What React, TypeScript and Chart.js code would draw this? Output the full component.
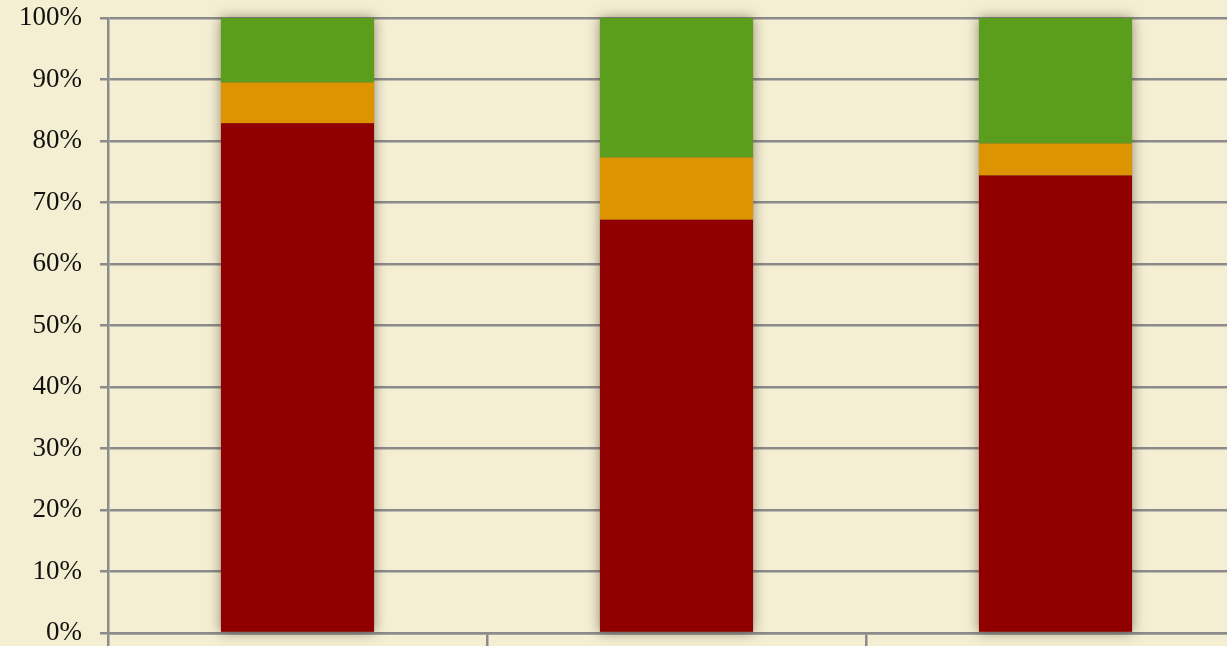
import React, { useEffect, useRef } from "react";
import { Chart, registerables } from "chart.js";

Chart.register(...registerables);

const categories = ["Group 1", "Group 2", "Group 3"];
const seriesNames = ["Series A", "Series B", "Series C"];
const redValues = [82.9, 67.2, 74.4];
const orangeValues = [6.6, 10.1, 5.2];
const greenValues = [10.5, 22.7, 20.4];
const yTicks = [0, 10, 20, 30, 40, 50, 60, 70, 80, 90, 100];

const BG = "#f4eed3";
const GRID = "#8b8b8b";

const W = 1260;
const H = 700;

const bgPlugin = {
  id: "bgFill",
  beforeDraw(chart: any) {
    const { ctx } = chart;
    ctx.save();
    ctx.fillStyle = BG;
    ctx.fillRect(0, 0, chart.width, chart.height);
    ctx.restore();
  },
};

const shadowPlugin = {
  id: "barShadow",
  beforeDatasetsDraw(chart: any) {
    const { ctx } = chart;
    const n = chart.data.datasets.length;
    const first = chart.getDatasetMeta(0);
    const last = chart.getDatasetMeta(n - 1);
    ctx.save();
    ctx.shadowColor = "rgba(60,50,30,0.55)";
    ctx.shadowBlur = 12;
    ctx.shadowOffsetX = 0;
    ctx.shadowOffsetY = 0;
    ctx.fillStyle = "rgba(120,100,70,1)";
    first.data.forEach((el: any, i: number) => {
      const top = last.data[i];
      const w = el.width;
      ctx.fillRect(el.x - w / 2, top.y, w, el.base - top.y);
    });
    ctx.restore();
  },
};

export default function App() {
  const ref = useRef<HTMLCanvasElement | null>(null);
  useEffect(() => {
    if (!ref.current) return;
    document.body.style.margin = "0";
    document.body.style.background = BG;
    document.body.style.overflow = "hidden";
    const chart = new Chart(ref.current, {
      type: "bar",
      data: {
        labels: categories,
        datasets: [
          { label: seriesNames[0], data: redValues, backgroundColor: "#900000" },
          { label: seriesNames[1], data: orangeValues, backgroundColor: "#dc9500" },
          { label: seriesNames[2], data: greenValues, backgroundColor: "#5b9d1c" },
        ],
      },
      options: {
        responsive: false,
        animation: false,
        devicePixelRatio: 1,
        layout: { padding: { top: 18, right: 15, left: 0, bottom: 0 } },
        datasets: {
          bar: { categoryPercentage: 0.404, barPercentage: 1, borderWidth: 0 },
        },
        plugins: { legend: { display: false }, tooltip: { enabled: false } },
        scales: {
          x: {
            stacked: true,
            offset: true,
            ticks: { display: false },
            grid: {
              offset: true,
              drawOnChartArea: false,
              drawTicks: true,
              tickLength: 40,
              color: GRID,
              lineWidth: 2.5,
            },
            border: { display: true, color: GRID, width: 2.5 },
            afterFit(scale: any) {
              scale.height = H - 633;
              scale.paddingLeft = 0;
              scale.paddingRight = 0;
            },
          },
          y: {
            stacked: true,
            min: 0,
            max: 100,
            afterBuildTicks(scale: any) {
              scale.ticks = yTicks.map((v) => ({ value: v }));
            },
            ticks: {
              padding: 18,
              color: "#141210",
              font: { family: "'Liberation Serif', 'DejaVu Serif', serif", size: 27 },
              callback: (v: any) => v + "%",
            },
            grid: { color: GRID, lineWidth: 2.5, tickLength: 8 },
            border: { display: true, color: GRID, width: 2.5 },
            afterFit(scale: any) {
              scale.width = 108;
              scale.paddingTop = 0;
              scale.paddingBottom = 0;
            },
          },
        },
      },
      plugins: [bgPlugin, shadowPlugin],
    });
    return () => chart.destroy();
  }, []);
  return (
    <div
      style={{
        position: "fixed",
        left: 0,
        top: 0,
        width: 1227,
        height: 646,
        overflow: "hidden",
        background: BG,
      }}
    >
      <canvas ref={ref} width={W} height={H} style={{ width: W, height: H, display: "block" }} />
    </div>
  );
}
